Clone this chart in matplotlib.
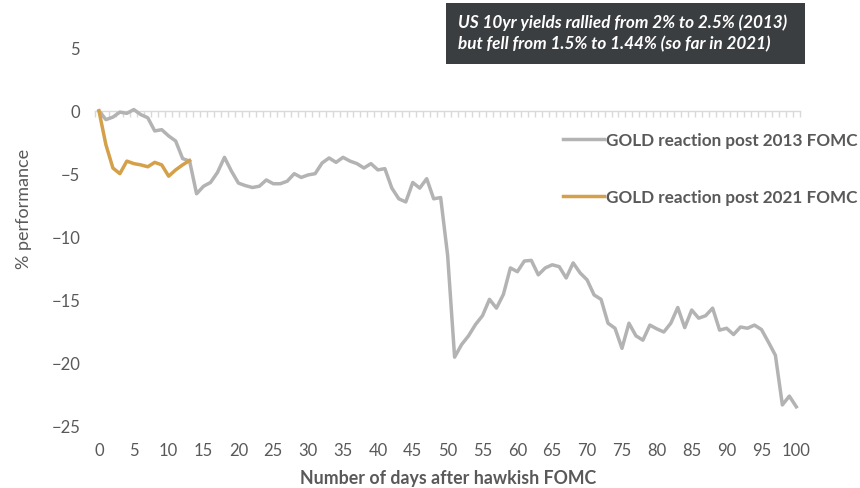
import numpy as np
import matplotlib
matplotlib.use("Agg")
import matplotlib.pyplot as plt
from matplotlib.patches import Rectangle
from matplotlib.ticker import MultipleLocator

plt.rcParams['font.family'] = ['Lato', 'DejaVu Sans']

# ---------- data ----------
gold_2013 = [0.0, -0.7, -0.5, -0.1, -0.2, 0.1, -0.3, -0.55, -1.6, -1.5,
             -2.0, -2.4, -3.8, -4.0, -6.6, -6.0, -5.7, -4.9, -3.7, -4.8,
             -5.75, -5.95, -6.1, -6.0, -5.5, -5.8, -5.8, -5.6, -5.0, -5.3,
             -5.1, -5.0, -4.15, -3.75, -4.1, -3.7, -4.0, -4.2, -4.55, -4.2,
             -4.7, -4.6, -6.15, -7.0, -7.25, -5.7, -6.15, -5.4, -7.0, -6.9,
             -11.5, -19.6, -18.6, -17.9, -17.0, -16.3, -15.0, -15.7, -14.6, -12.5,
             -12.8, -11.95, -11.9, -13.05, -12.5, -12.25, -12.4, -13.3, -12.1, -12.9,
             -13.45, -14.65, -15.0, -16.9, -17.3, -18.9, -16.9, -17.9, -18.25, -17.05,
             -17.35, -17.6, -16.9, -15.65, -17.25, -15.85, -16.5, -16.3, -15.7, -17.45,
             -17.3, -17.8, -17.2, -17.3, -17.05, -17.4, -18.4, -19.45, -23.4, -22.7,
             -23.55]
gold_2021 = [0.0, -2.7, -4.55, -5.0, -4.0, -4.2, -4.3, -4.45, -4.1, -4.3,
             -5.2, -4.7, -4.3, -3.95]
days_2013 = np.arange(len(gold_2013))
days_2021 = np.arange(len(gold_2021))

label_2013 = 'GOLD reaction post 2013 FOMC'
label_2021 = 'GOLD reaction post 2021 FOMC'
note = 'US 10yr yields rallied from 2% to 2.5% (2013)\nbut fell from 1.5% to 1.44% (so far in 2021)'

grey = '#b3b3b3'
gold = '#d4a04a'
txt = '#595959'
axis_grey = '#d9d9d9'

fig = plt.figure(figsize=(8.6, 4.89), dpi=100)
ax = fig.add_axes([0.111, 0.1288, 0.819, 0.771])

ax.plot(days_2013, gold_2013, color=grey, lw=2.5, label=label_2013, solid_joinstyle='round', zorder=3)
ax.plot(days_2021, gold_2021, color=gold, lw=2.5, label=label_2021, solid_joinstyle='round', zorder=4)

ax.set_xlim(-0.5, 100.5)
ax.set_ylim(-25, 5)
for s in ax.spines.values():
    s.set_visible(False)

# horizontal axis line crossing at zero, ticks between the days
ax.spines['top'].set_visible(True)
ax.spines['top'].set_position(('data', 0))
ax.spines['top'].set_color(axis_grey)
ax.spines['top'].set_linewidth(1.0)
ax.spines['top'].set_zorder(1)

ax.xaxis.set_major_locator(MultipleLocator(5))
ax.xaxis.set_minor_locator(MultipleLocator(1, offset=0.5))
ax.yaxis.set_major_locator(MultipleLocator(5))
ax.tick_params(axis='x', which='major', bottom=True, top=False, length=0, pad=12,
               labelsize=12, labelcolor=txt, labelbottom=True, labeltop=False)
ax.tick_params(axis='x', which='minor', bottom=False, top=True, direction='in',
               length=4, width=1.0, color=axis_grey)
ax.tick_params(axis='y', length=0, pad=11, labelsize=12, labelcolor=txt)

ax.set_xlabel('Number of days after hawkish FOMC', fontsize=12.8, fontweight='bold', color=txt, labelpad=8)
fig.text(0.028, 0.573, '% performance', rotation=90, fontsize=13, color=txt, ha='center', va='center')

leg = ax.legend(loc='upper left', bbox_to_anchor=(0.655, 0.729), bbox_transform=fig.transFigure,
                frameon=False, handlelength=2.4, handletextpad=0.1, labelspacing=2.45,
                borderaxespad=0, borderpad=0, prop={'size': 12.3, 'weight': 'bold'})
for t in leg.get_texts():
    t.set_color(txt)

# annotation box
fig.patches.append(Rectangle((0.5186, 0.8671), 0.4174, 0.1247, transform=fig.transFigure,
                             facecolor='#3b3e40', edgecolor='none'))
fig.text(0.5326, 0.932, note, color='white', fontsize=12.3, fontweight='bold', style='italic',
         ha='left', va='center', linespacing=1.4)

fig.savefig('out.png', dpi=100)
